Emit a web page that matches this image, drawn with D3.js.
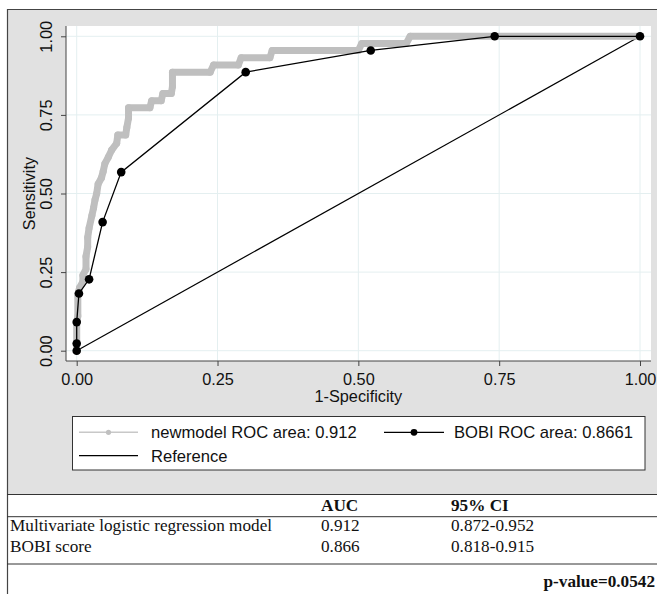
<!DOCTYPE html>
<html><head><meta charset="utf-8">
<script src="https://cdn.jsdelivr.net/npm/d3@7"></script>
<style>body{margin:0;background:#fff}svg{display:block}</style>
</head><body><svg id="c" width="657" height="594"></svg>
<script>
// ---- data ----
const xTicks = [0, 0.25, 0.5, 0.75, 1];
const yTicks = [0, 0.25, 0.5, 0.75, 1];
const newmodelFpr = [0,0,0.002,0.002,0.005,0.011,0.011,0.0165,0.0165,0.0195,0.0195,0.022,0.027,0.030,0.0325,0.0355,0.038,0.044,0.047,0.050,0.056,0.062,0.071,0.073,0.087,0.089,0.092,0.092,0.130,0.133,0.150,0.153,0.168,0.170,0.170,0.237,0.243,0.287,0.292,0.343,0.347,0.500,0.506,0.585,0.592,1.0];
const newmodelTpr = [0,0.09,0.11,0.18,0.20,0.22,0.24,0.26,0.30,0.33,0.36,0.39,0.43,0.455,0.48,0.50,0.53,0.55,0.57,0.595,0.615,0.638,0.66,0.686,0.686,0.71,0.74,0.773,0.773,0.795,0.795,0.818,0.818,0.84,0.886,0.886,0.909,0.909,0.932,0.932,0.955,0.955,0.977,0.977,1.0,1.0];
const bobiFpr = [0,0,0,0.004,0.022,0.046,0.079,0.300,0.522,0.742,1];
const bobiTpr = [0,0.023,0.091,0.182,0.227,0.409,0.568,0.886,0.955,1,1];
const refFpr = [0,1];
const refTpr = [0,1];
const legendLabels = ["newmodel ROC area: 0.912", "BOBI ROC area: 0.8661", "Reference"];
const xTitle = "1-Specificity";
const yTitle = "Sensitivity";
const tableHeader = ["", "AUC", "95% CI"];
const tableRows = [
  ["Multivariate logistic regression model", "0.912", "0.872-0.952"],
  ["BOBI score", "0.866", "0.818-0.915"]
];
const pValueText = "p-value=0.0542";

// ---- drawing ----
const svg = d3.select("#c");
const sans = "Arial, 'Liberation Sans', Helvetica, sans-serif";
const serif = "'Times New Roman', 'Liberation Serif', Times, serif";

const x = d3.scaleLinear().domain([0,1]).range([76.7, 640]);
const y = d3.scaleLinear().domain([0,1]).range([350.7, 36.3]);

// graph region background
svg.append("rect").attr("x",7).attr("y",9).attr("width",650).attr("height",485).attr("fill","#e1e1e1");
// plot region
svg.append("rect").attr("x",66).attr("y",26).attr("width",585).attr("height",335).attr("fill","#fff");

// gridlines
const g = svg.append("g");
g.selectAll("line.vx").data(xTicks).join("line")
  .attr("x1",d=>x(d)).attr("x2",d=>x(d)).attr("y1",26).attr("y2",361)
  .attr("stroke","#e4eff0").attr("stroke-width",1);
g.selectAll("line.hy").data(yTicks).join("line")
  .attr("x1",66).attr("x2",651).attr("y1",d=>y(d)).attr("y2",d=>y(d))
  .attr("stroke","#e4eff0").attr("stroke-width",1);

// axes
const xAxis = d3.axisBottom(x).tickValues(xTicks).tickFormat(d3.format(".2f")).tickSize(5).tickPadding(6);
const yAxis = d3.axisLeft(y).tickValues(yTicks).tickFormat(d3.format(".2f")).tickSize(5).tickPadding(4);
const xa = svg.append("g").attr("transform","translate(0,361)").call(xAxis);
xa.select(".domain").attr("d","M66,0H651").attr("stroke","#444");
xa.selectAll(".tick line").attr("stroke","#444");
xa.selectAll(".tick text").attr("font-family",sans).attr("font-size",16.3).attr("fill","#111").attr("dy",null).attr("y",24);
const ya = svg.append("g").attr("transform","translate(66,0)").call(yAxis);
ya.select(".domain").attr("d","M0,26V361").attr("stroke","#444");
ya.selectAll(".tick line").attr("stroke","#444");
ya.selectAll(".tick text").attr("font-family",sans).attr("font-size",16.3).attr("fill","#111")
  .attr("text-anchor","middle").attr("x",null).attr("dy",null)
  .attr("transform","translate(-14.5,0) rotate(-90)");

// axis titles
svg.append("text").attr("x",x(0.5)).attr("y",402).attr("text-anchor","middle")
  .attr("font-family",sans).attr("font-size",16.3).attr("fill","#111").text(xTitle);
svg.append("text").attr("transform",`translate(35,${(y(0)+y(1))/2}) rotate(-90)`).attr("text-anchor","middle")
  .attr("font-family",sans).attr("font-size",16.3).attr("fill","#111").text(yTitle);

// reference line
const line = d3.line().x(d=>x(d[0])).y(d=>y(d[1]));
svg.append("path").datum(d3.zip(refFpr, refTpr)).attr("d",line)
  .attr("fill","none").attr("stroke","#000").attr("stroke-width",1.2);

// newmodel curve (dense markers appear as a thick band)
const nm = d3.zip(newmodelFpr, newmodelTpr);
svg.append("path").datum(nm).attr("d",line)
  .attr("fill","none").attr("stroke","#bfbfbf").attr("stroke-width",7)
  .attr("stroke-linejoin","round").attr("stroke-linecap","round");
svg.append("g").selectAll("circle").data(nm).join("circle")
  .attr("cx",d=>x(d[0])).attr("cy",d=>y(d[1])).attr("r",3.5).attr("fill","#bfbfbf");

// BOBI curve
const bb = d3.zip(bobiFpr, bobiTpr);
svg.append("path").datum(bb).attr("d",line)
  .attr("fill","none").attr("stroke","#000").attr("stroke-width",1.3);
svg.append("g").selectAll("circle").data(bb).join("circle")
  .attr("cx",d=>x(d[0])).attr("cy",d=>y(d[1])).attr("r",4.3).attr("fill","#000");

// legend
svg.append("rect").attr("x",72.5).attr("y",416.5).attr("width",572.5).attr("height",53.5)
  .attr("fill","#fff").attr("stroke","#333").attr("stroke-width",1);
const leg = [
  {x1:79, x2:138, y:432.3, text:legendLabels[0], tx:151, ty:438, stroke:"#c8c8c8", sw:1.5, r:2.6, fill:"#c0c0c0"},
  {x1:384, x2:444, y:432.3, text:legendLabels[1], tx:454, ty:438, stroke:"#000", sw:1.3, r:3.4, fill:"#000"},
  {x1:79, x2:138, y:455.7, text:legendLabels[2], tx:151, ty:461.5, stroke:"#000", sw:1.3, r:0, fill:"none"}
];
const lg = svg.append("g").selectAll("g").data(leg).join("g");
lg.append("line").attr("x1",d=>d.x1).attr("x2",d=>d.x2).attr("y1",d=>d.y).attr("y2",d=>d.y)
  .attr("stroke",d=>d.stroke).attr("stroke-width",d=>d.sw);
lg.filter(d=>d.r>0).append("circle").attr("cx",d=>(d.x1+d.x2)/2).attr("cy",d=>d.y).attr("r",d=>d.r).attr("fill",d=>d.fill);
lg.append("text").attr("x",d=>d.tx).attr("y",d=>d.ty).attr("font-family",sans).attr("font-size",16.6).attr("fill","#111").text(d=>d.text);

// frame lines
svg.append("line").attr("x1",7.5).attr("x2",7.5).attr("y1",9).attr("y2",594).attr("stroke","#444").attr("stroke-width",1.2);
svg.append("line").attr("x1",7).attr("x2",657).attr("y1",9.5).attr("y2",9.5).attr("stroke","#444").attr("stroke-width",1.2);
[494.5, 516.7, 564].forEach(yy=>{
  svg.append("line").attr("x1",7).attr("x2",657).attr("y1",yy).attr("y2",yy).attr("stroke","#333").attr("stroke-width",1);
});

// table
const colX = [10, 321, 451];
const tfs = 17.2;
svg.append("g").selectAll("text").data(tableHeader).join("text")
  .attr("x",(d,i)=>colX[i]).attr("y",511.2).attr("font-family",serif).attr("font-size",tfs)
  .attr("font-weight","bold").attr("fill","#111").text(d=>d);
const rowY = [530.6, 552];
tableRows.forEach((row,ri)=>{
  svg.append("g").selectAll("text").data(row).join("text")
    .attr("x",(d,i)=>colX[i]).attr("y",rowY[ri]).attr("font-family",serif).attr("font-size",tfs)
    .attr("fill","#111").text(d=>d);
});
svg.append("text").attr("x",655).attr("y",586.5).attr("text-anchor","end")
  .attr("font-family",serif).attr("font-size",tfs).attr("font-weight","bold").attr("fill","#111").text(pValueText);
</script></body></html>
